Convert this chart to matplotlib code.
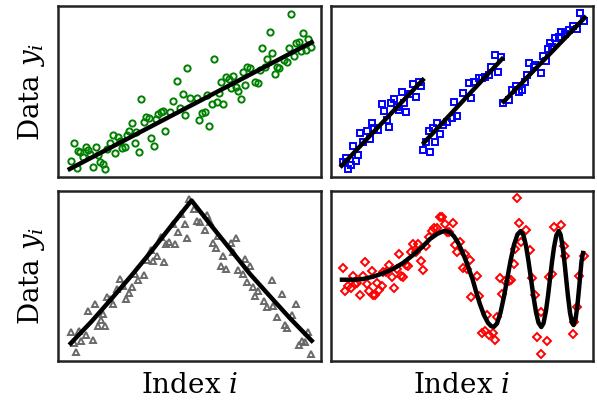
import numpy as np
import matplotlib
matplotlib.use("Agg")
import matplotlib.pyplot as plt

plt.rcParams['font.family'] = ['DejaVu Serif']
plt.rcParams['mathtext.fontset'] = 'dejavuserif'

# ---- panel 1: linear trend (green circles)
lin_x = [13.3, 15.7, 20, 22.3, 25, 27.7, 30, 32.3, 37.7, 35, 41.7, 45, 47.3, 18.7, 52.3, 55, 57.3, 60,
         61.7, 64.3, 66.7, 69, 71, 74, 76.7, 78.3, 81, 83.3, 85.7, 88.3, 90.7, 93.3, 95.7, 97.7, 100,
         102.7, 105.3, 107.3, 111.7, 115, 119.3, 122, 124.7, 126.7, 129.3, 131.7, 49.3, 40,
         156, 138.7, 141.3, 144, 146.7, 148.7, 151.3, 153.7, 158.7, 161.3, 163.3, 165.3, 168, 170.7,
         172.7, 175.3, 178, 180.3, 182.7, 184.7, 187.3, 189.3, 192, 197, 199.7, 202, 204.3, 207,
         209.3, 211.7, 214, 216.7, 218.7, 221.3, 226, 228.7, 231, 233.3, 236, 238, 240.7, 243.3,
         245.3, 248, 250.3, 252.7]
lin_y = [16.3, 33.7, 26.3, 25.3, 20.3, 30.3, 27, 23, 30.3, 10.3, 15.3, 12.7, 8, 9.3, 34.3, 41.7, 24.3, 40.3,
         36.3, 29.3, 30.3, 42, 46, 54, 34.3, 45.3, 25.3, 77.7, 54.7, 60, 59.3, 38.7, 31, 57.7, 62.7,
         65.3, 66, 46, 64.7, 76.3, 95.7, 69.3, 83.3, 62, 108.7, 78.7, 28, 22,
         118, 78.7, 57, 64.3, 65.3, 82, 51, 73, 75.3, 83.7, 95.3, 73, 100.3, 98,
         89.3, 101.3, 90.3, 86.3, 77.7, 105.3, 92, 109.7, 108.7, 95.3, 94, 107, 128.7, 109.7,
         118, 144.7, 124.3, 103.3, 110.3, 108.7, 117, 114.7, 128.7, 163.3, 121.3, 133.7, 134.7, 126,
         143.7, 127, 137.7, 129.7]
lin_fit_x = [11.7, 253.7]
lin_fit_y = [8, 134.7]

# ---- panel 2: three shifted linear segments (blue squares)
seg_x = [[11.7, 14.7, 17.3, 19.7, 24.7, 27.3, 22.3, 29, 32.3, 36.3, 39, 41.3, 43.3, 47.3, 50.7, 53.3,
          56.3, 58.3, 60.3, 63, 65.7, 68, 70.7, 73.3, 75.3, 79, 82, 85, 87.7, 90],
         [92.3, 99, 94.7, 98, 104.3, 101.7, 106.3, 109, 112.3, 116.3, 121, 123.3, 126, 132.3,
          137.7, 140.3, 143.3, 147.7, 151, 154.3, 157.7, 160, 164.3, 167, 170],
         [172, 177.7, 181, 185.3, 187.7, 191.3, 194.3, 196, 198.3, 202.7, 204.3, 210.3, 212, 215.3,
          217, 219.3, 221, 224.3, 227.7, 230, 234.3, 237.7, 241.7, 246, 249.3, 252.7]]
seg_y = [[15.3, 19.3, 7.7, 12, 16, 22.3, 31.3, 44, 35.3, 46, 37.7, 53.7, 48.7, 47, 73.3, 66.3,
          57, 49.7, 74.3, 77.7, 70.3, 66.7, 84.7, 73.7, 65.3, 82.7, 92.7, 79.7, 95.3, 91],
         [27, 25.3, 35.3, 46, 34.7, 49.3, 54, 42.7, 52, 54.7, 58.7, 75.3, 61, 83.7,
          93.7, 78.7, 94.7, 99.3, 98.7, 100.3, 102, 110.3, 122, 105.3, 120.3],
         [73.7, 77, 87, 91, 84.7, 87, 94.7, 102, 113.7, 110.3, 112, 103.7, 121.3, 116,
          127.7, 134.3, 130.3, 138.7, 140.3, 145.3, 142.7, 147, 151, 148, 163.7, 156.3]]
seg_fit_x = [[10.7, 91.7], [93, 171], [172.7, 253.7]]
seg_fit_y = [[11.3, 97], [34.3, 118], [75.3, 159.3]]

# ---- panel 3: peaked trend (gray triangles)
peak_x = [13.3, 18.3, 16, 20.7, 23.3, 28.3, 30, 35, 37.3, 40, 42.7, 45, 47.3, 49.3, 51.7, 55, 59.3,
          61.7, 65, 68.3, 70.7, 74, 76.7, 80, 86, 89.3, 92.7, 95, 99, 102.7, 106, 108.3, 111, 116.7,
          115, 120, 123.3, 127.3, 129.3, 131,
          136, 139.3, 142, 147, 148.7, 152, 155.3, 158, 160.3, 163, 165.3, 168, 172.7, 175.3, 177.7,
          180.3, 184.7, 187, 189.3, 192, 194.7, 197, 200.3, 206, 208.7, 213.7, 215.3, 219.3, 223.7,
          227, 228.7, 233.7, 238, 241.3, 243.7, 247, 250.3, 252.7]
peak_y = [28.7, 8.7, 18, 30.3, 20.3, 26, 50.3, 21.3, 57, 35.3, 41, 47, 35.3, 64.3, 62, 57, 72,
          82, 75.3, 62, 68, 74.3, 87, 81.3, 86, 101, 111.3, 100.3, 105.3, 124.3, 99.3, 117, 118.7, 117,
          137, 128.7, 147, 137, 122.7, 162,
          152, 140.3, 138.7, 131.3, 146, 139.3, 118, 112.7, 125.3, 95.3, 105.3, 92, 118, 109.3, 122.7,
          91, 87, 102, 78.7, 94.7, 73.7, 65.3, 70.3, 60.3, 53.7, 81.3, 55.3, 44.3, 67,
          36, 32.7, 46, 57, 16, 20.3, 18.7, 28.7, 7]
peak_fit_x = [12.7, 33.3, 53.3, 73.3, 93.3, 113.3, 133.5, 152, 172, 192, 212, 232, 253.7]
peak_fit_y = [17.7, 39.3, 62, 85.3, 109.7, 135.3, 160.5, 137, 112, 87, 64.7, 42.7, 20.3]

# ---- panel 4: chirp-like oscillation (red diamonds)
osc_x = [12.3, 14, 17.3, 19.7, 21.7, 24, 26.3, 29, 31.7, 34, 36.3, 38.3, 40.7, 41.7, 44, 46.3, 48.3,
         50.7, 52.3, 55, 58.3, 60.7, 63, 65.7, 68, 70, 72.3, 75, 77.3, 79.7, 82.3, 85, 87.3, 89.7,
         92.3, 95, 98.3, 100.7, 103, 105.7, 109, 110.7, 114, 116.3, 118.3, 121.7, 124, 125.7, 129,
         132.3, 134.3, 136, 139.3, 140, 146, 147.7, 151, 153.7, 156, 157.7, 161.7, 164.3, 166, 168.7,
         171, 173.7, 177.7, 180.3, 182.7, 184.3, 186, 188.3, 190.3, 195.3, 199.3, 201, 204.3, 206,
         210.3, 210.3, 216, 218.3, 221, 222.7, 230, 232.7, 234.3, 242.7, 242, 246, 247.7, 252.7]
osc_y = [92.7, 70.3, 75.3, 72.7, 84.7, 77, 77.7, 66.3, 84.7, 98.7, 77, 70.3, 90.3, 66, 66, 77.7, 71.3,
         75.3, 89.3, 88.7, 96, 83.7, 72.7, 92, 107, 85.3, 83.7, 96, 95.3, 109.3, 117, 108.7, 117, 100.3,
         91.3, 115.3, 123.7, 130.3, 132.7, 132.7, 143.7, 143.7, 137, 128.7, 128.7, 137.7, 116, 108.7, 118.7,
         92.7, 107, 92, 101, 63.7, 84.7, 64.7, 28, 30.3, 46, 26, 28, 21.3, 43.7, 82.7,
         67, 80.3, 80.3, 81.3, 97, 112, 162.7, 137.7, 119.3, 131, 111.3, 82.7, 66, 23.7,
         49.3, 7, 20.3, 83.7, 87, 133.7, 135.7, 114.7, 105.3, 38.7, 27, 53.7, 84.7, 105.3]
osc_fit_x = [11, 22, 32, 42, 52, 62, 72, 82, 91, 99, 106, 112, 115,
             119, 123, 127, 131, 135, 139, 141.5, 145, 149, 153, 157, 160, 162.7,
             166, 169.5, 173, 176.2, 179.5, 183, 186.5, 189.7,
             192.5, 195, 197.5, 200, 202.5, 205, 207.5, 210.3,
             212.5, 215, 217, 219, 221, 223, 225.3, 227.7,
             229.5, 231.5, 233.5, 235, 237, 239, 241, 242.5,
             244.5, 246.5, 248.5, 250.5, 252]
osc_fit_y = [81.3, 81.3, 82, 84.3, 87.7, 92, 98, 106, 113.7, 122, 127, 129.7, 130,
             128.7, 124.7, 118.4, 110, 100, 89, 82, 69.7, 56.7, 45.9, 38.2, 35, 34,
             37.5, 48.3, 64.5, 82, 100, 116.2, 126.6, 130,
             125.7, 115.2, 99.8, 82, 64.3, 48.9, 38.3, 34,
             37.7, 50.3, 65.1, 82, 99.1, 113.7, 125.6, 130,
             126.6, 115.5, 98.7, 84, 64.6, 48.4, 38.3, 36,
             41.4, 56.3, 77.4, 99.6, 108]

fig = plt.figure(figsize=(5.97, 4.05), dpi=100)
ax1 = fig.add_axes([0.0972, 0.563, 0.4405, 0.4222])
ax2 = fig.add_axes([0.5544, 0.563, 0.4389, 0.4222])
ax3 = fig.add_axes([0.0972, 0.1086, 0.4405, 0.4198])
ax4 = fig.add_axes([0.5544, 0.1086, 0.4389, 0.4198])

mk = dict(linestyle='none', markerfacecolor='none', markersize=4.5, markeredgewidth=1.4)

ax1.plot(lin_x, lin_y, 'o', color='green', **mk)
ax1.plot(lin_fit_x, lin_fit_y, color='black', lw=3.2)

for sx, sy in zip(seg_x, seg_y):
    ax2.plot(sx, sy, 's', color='blue', **mk)
for fx, fy in zip(seg_fit_x, seg_fit_y):
    ax2.plot(fx, fy, color='black', lw=3.2)

ax3.plot(peak_x, peak_y, '^', color='dimgray', **mk)
ax3.plot(peak_fit_x, peak_fit_y, color='black', lw=3.2)

ax4.plot(osc_x, osc_y, 'D', color='red', **dict(mk, markersize=4))
ax4.plot(osc_fit_x, osc_fit_y, color='black', lw=3.2, solid_joinstyle='round')

for ax in (ax1, ax2, ax3, ax4):
    ax.set_xticks([])
    ax.set_yticks([])
    for s in ax.spines.values():
        s.set_linewidth(1.8)
        s.set_color('#222222')
ax1.set_xlim(0, 263); ax1.set_ylim(0, 171)
ax2.set_xlim(0, 262); ax2.set_ylim(0, 171)
ax3.set_xlim(0, 263); ax3.set_ylim(0, 170)
ax4.set_xlim(0, 262); ax4.set_ylim(0, 170)

ax1.set_ylabel('Data $y_i$', fontsize=20, labelpad=8)
ax3.set_ylabel('Data $y_i$', fontsize=20, labelpad=8)
ax3.set_xlabel('Index $i$', fontsize=20, labelpad=8)
ax4.set_xlabel('Index $i$', fontsize=20, labelpad=8)

fig.savefig('out.png', dpi=100)
